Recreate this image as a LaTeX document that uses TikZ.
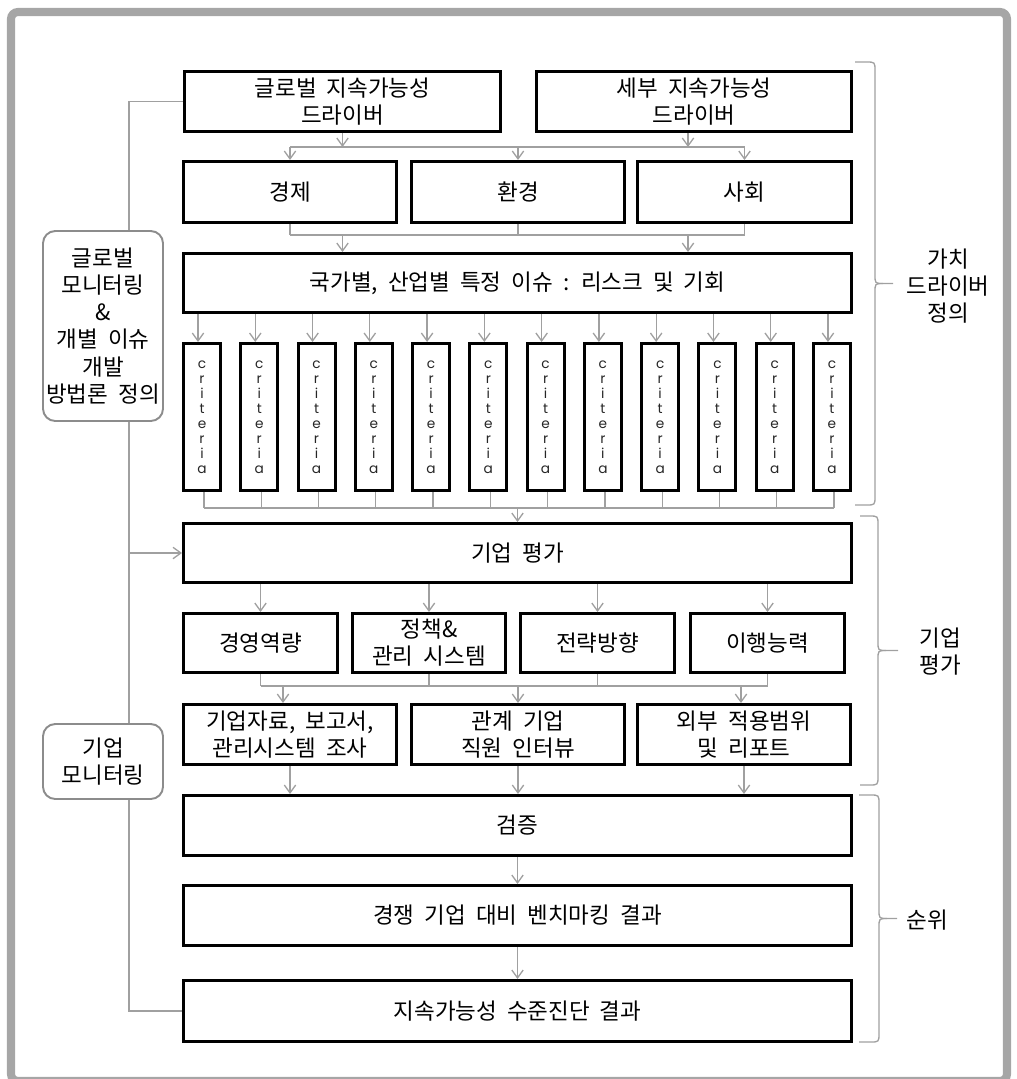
\documentclass[tikz,border=0pt]{standalone}
\usepackage{fontspec}
\newfontfamily\kr[WordSpace=2.0]{Noto Sans CJK KR}
\newfontfamily\crit{Poppins}
\usetikzlibrary{arrows.meta,calc}
\definecolor{framegray}{HTML}{A6A6A6}
\definecolor{linegray}{HTML}{A0A0A0}
\definecolor{roundgray}{HTML}{8C8C8C}
\tikzset{
  box/.style={draw=black,line width=1.7pt,align=center,inner sep=0pt,
    font=\kr\fontsize{12.8pt}{15.4pt}\selectfont},
  critbox/.style={font=\crit\fontsize{7.8pt}{8.5pt}\selectfont,text=black!85},
  rbox/.style={draw=roundgray,line width=1.1pt,rounded corners=7pt,align=center,inner sep=0pt,
    font=\kr\fontsize{12.8pt}{15.4pt}\selectfont},
  conn/.style={draw=linegray,line width=0.75pt},
  arr/.style={conn,-{Straight Barb[length=4.5pt,width=6.5pt]}},
  bracestyle/.style={draw=linegray,line width=0.75pt},
  sidelabel/.style={align=center,inner sep=0pt,font=\kr\fontsize{12.8pt}{15.4pt}\selectfont}
}
\newcommand\bx[7][]{\node[box,#1,minimum width={(#5-#3-3)*0.02cm},minimum height={(#6-#4-3)*0.02cm}] (#2) at ({(#3+#5)/2},{(#4+#6)/2}) {#7};}
\newcommand\rbx[6]{\node[rbox,minimum width={(#4-#2-2)*0.02cm},minimum height={(#5-#3-2)*0.02cm}] (#1) at ({(#2+#4)/2},{(#3+#5)/2}) {#6};}
% top bottom mid ends vert tip
\newcommand\brc[6]{%
  \draw[bracestyle] (#4,#1) -- (#5-9,#1) .. controls (#5,#1) .. (#5,#1+9) -- (#5,#3-9) .. controls (#5,#3) .. (#5+8,#3) -- (#6,#3);
  \draw[bracestyle] (#4,#2) -- (#5-9,#2) .. controls (#5,#2) .. (#5,#2-9) -- (#5,#3+9) .. controls (#5,#3) .. (#5+8,#3);}
\begin{document}
\begin{tikzpicture}[x=0.02cm,y=-0.02cm]
\useasboundingbox (0,0) rectangle (1017,1079);
% outer frame
\draw[framegray,line width=4.6pt,rounded corners=4pt] (11,12) rectangle (1007,1081);

% top drivers
\bx{A}{183}{70}{502}{133}{글로벌 지속가능성\\드라이버}
\bx{B}{535}{70}{853}{133}{세부 지속가능성\\드라이버}
% three pillars
\bx{E1}{182}{160}{398}{224}{경제}
\bx{E2}{410}{160}{626}{224}{환경}
\bx{E3}{636}{160}{853}{224}{사회}
% issues
\bx{C}{182}{252}{853}{314}{국가별, 산업별 특정 이슈 : 리스크 및 기회}
% criteria
\foreach \k in {0,...,11}{
  \pgfmathsetmacro\l{182+\k*57.27}
  \bx[critbox]{cr\k}{\l}{342}{\l+40}{492}{c\\r\\i\\t\\e\\r\\i\\a}
}
% company evaluation
\bx{D}{182}{522}{853}{584}{기업 평가}
\bx{K1}{182}{612}{339}{674}{경영역량}
\bx{K2}{351}{612}{507}{674}{정책\&\\관리 시스템}
\bx{K3}{519}{612}{676}{674}{전략방향}
\bx{K4}{689}{612}{846}{674}{이행능력}
\bx{L1}{182}{703}{398}{766}{기업자료, 보고서,\\관리시스템 조사}
\bx{L2}{410}{703}{626}{766}{관계 기업\\직원 인터뷰}
\bx{L3}{636}{703}{852}{766}{외부 적용범위\\및 리포트}
% ranking
\bx{V}{182}{794}{853}{857}{검증}
\bx{W}{182}{884}{853}{947}{경쟁 기업 대비 벤치마킹 결과}
\bx{X}{182}{979}{853}{1043}{지속가능성 수준진단 결과}
% left monitoring boxes
\rbx{G1}{42}{230}{164}{422}{글로벌\\모니터링\\\&\\개별 이슈\\개발\\방법론 정의}
\rbx{G2}{42}{723}{164}{800}{기업\\모니터링}

% rails
\coordinate (r1) at (0,147);
\coordinate (r2) at (0,235);
\coordinate (r3) at (0,508);
\coordinate (r4) at (0,686);

% drivers -> pillars
\draw[arr] (A.south) -- (A.south |- r1);
\draw[arr] ([xshift=-6*0.02cm]B.south) -- ([xshift=-6*0.02cm]B.south |- r1);
\draw[conn] (E1.north |- r1) -- (E3.north |- r1);
\foreach \n in {E1,E2,E3}{\draw[arr] (\n.north |- r1) -- (\n.north);}
% pillars -> issues
\foreach \n in {E1,E2,E3}{\draw[conn] (\n.south) -- (\n.south |- r2);}
\draw[conn] (E1.south |- r2) -- (E3.south |- r2);
\draw[arr] (A.south |- r2) -- (A.south |- C.north);
\draw[arr] ([xshift=-6*0.02cm]B.south |- r2) -- ([xshift=-6*0.02cm]B.south |- C.north);
% issues -> criteria -> company evaluation
\foreach \k in {0,...,11}{
  \path (cr\k.north) ++(-4,0) coordinate (ca);
  \draw[arr] (C.south -| ca) -- (ca);
  \path (cr\k.south) ++(2,0) coordinate (cb);
  \draw[conn] (cb) -- (cb |- r3);
}
\draw[conn] ([xshift=2*0.02cm]cr0.south |- r3) -- ([xshift=2*0.02cm]cr11.south |- r3);
\draw[arr] (D.north |- r3) -- (D.north);
% company evaluation -> aspects
\foreach \n in {K1,K2,K3,K4}{\draw[arr] (\n.north |- D.south) -- (\n.north);}
\foreach \n in {K1,K2,K3,K4}{\draw[conn] (\n.south) -- (\n.south |- r4);}
\draw[conn] (K1.south |- r4) -- (K4.south |- r4);
\draw[arr] ([xshift=-7*0.02cm]L1.north |- r4) -- ([xshift=-7*0.02cm]L1.north);
\draw[arr] (L2.north |- r4) -- (L2.north);
\draw[arr] ([xshift=-3*0.02cm]L3.north |- r4) -- ([xshift=-3*0.02cm]L3.north);
% methods -> verification
\foreach \n in {L1,L2,L3}{\draw[arr] (\n.south) -- (\n.south |- V.north);}
\draw[arr] (V.south) -- (W.north);
\draw[arr] (W.south) -- (X.north);
% left monitoring line
\path (G1.north) ++(26,0) coordinate (g1t);
\path (G1.south) ++(26,0) coordinate (g1b);
\path (G2.north) ++(26,0) coordinate (g2t);
\path (G2.south) ++(26,0) coordinate (g2b);
\draw[conn] (A.west) -| (g1t);
\draw[conn] (g1b) -- (g2t);
\draw[arr] (g1b |- D.west) -- (D.west);
\draw[conn] (g2b) |- (X.west);

% braces and labels
\brc{62}{505}{283.5}{855}{875}{893}
\brc{516}{785}{650.5}{860}{878}{898}
\brc{795}{1042}{918.5}{859}{879}{897}
\node[sidelabel] (lab1) at (948,286) {가치\\드라이버\\정의};
\node[sidelabel] (lab2) at (940,652) {기업\\평가};
\node[sidelabel] (lab3) at (927,920) {순위};
\end{tikzpicture}
\end{document}
